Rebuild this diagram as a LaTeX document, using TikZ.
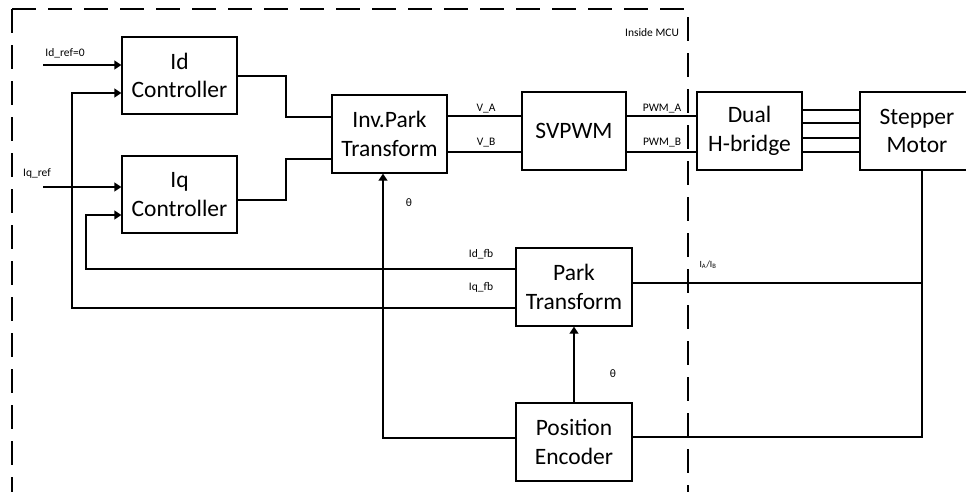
\documentclass[tikz,border=0pt]{standalone}
\usepackage{fontspec}
\setmainfont{Carlito}
\usetikzlibrary{arrows.meta}
\begin{document}
\begin{tikzpicture}[x=1pt,y=-1pt,
  blk/.style={draw,line width=1.3pt,align=center,font=\fontsize{23.5}{28.5}\selectfont,inner sep=0pt},
  wire/.style={line width=1.3pt},
  arr/.style={line width=1.3pt,-{Triangle[length=7pt,width=9pt]}},
  lbl/.style={font=\fontsize{11.5}{13}\selectfont,inner sep=0pt},
  mcu/.style={line width=2.8pt,dash pattern=on 24pt off 12pt}]
\useasboundingbox (0,0) rectangle (966,491);
% MCU boundary
\draw[mcu] (12,9) -- (12,500);
\draw[mcu] (12,9) -- (688,9) -- (688,500);
\node[lbl] (mculbl) at (652,33) {Inside MCU};
% blocks
\node[blk,minimum width=115pt,minimum height=77pt] (idc) at (179.5,75.5) {Id\\Controller};
\node[blk,minimum width=115pt,minimum height=77pt] (iqc) at (179.5,194.5) {Iq\\Controller};
\node[blk,minimum width=115pt,minimum height=78pt] (ipark) at (389.5,134) {Inv.Park\\Transform};
\node[blk,minimum width=104pt,minimum height=78pt] (svpwm) at (574,131) {SVPWM};
\node[blk,minimum width=105pt,minimum height=78pt] (hb) at (749.5,131) {Dual\\H-bridge};
\node[blk,minimum width=114pt,minimum height=78pt] (motor) at (917,131) {Stepper\\Motor};
\node[blk,minimum width=116pt,minimum height=78pt] (park) at (574,287) {Park\\Transform};
\node[blk,minimum width=116pt,minimum height=78pt] (enc) at (574,442) {Position\\Encoder};
% inputs
\coordinate (idref) at (43,65);
\coordinate (iqref) at (43,187);
\node[lbl] (idreflbl) at (65,53) {Id\_ref=0};
\node[lbl] (iqreflbl) at (37,173) {Iq\_ref};
\draw[arr] (idref) -- (idref -| idc.west);
\draw[arr] (iqref) -- (iqref -| iqc.west);
% feedback
\draw[arr] (park.west |- 0,308) -- (72,308) -- (72,93) -- (idc.west |- 0,93);
\draw[arr] (park.west |- 0,269) -- (86,269) -- (86,215) -- (iqc.west |- 0,215);
\node[lbl] (idfblbl) at (481,254) {Id\_fb};
\node[lbl] (iqfblbl) at (481,287) {Iq\_fb};
% controllers to inv park
\draw[wire] (idc.east |- 0,76) -- (286,76) -- (286,117) -- (ipark.west |- 0,117);
\draw[wire] (iqc.east |- 0,200) -- (286,200) -- (286,159) -- (ipark.west |- 0,159);
% inv park to svpwm
\draw[wire] (ipark.east |- 0,116) -- (svpwm.west |- 0,116);
\draw[wire] (ipark.east |- 0,152) -- (svpwm.west |- 0,152);
\node[lbl] (valbl) at (486,109) {V\_A};
\node[lbl] (vblbl) at (486,143) {V\_B};
% svpwm to h-bridge
\draw[wire] (svpwm.east |- 0,116) -- (hb.west |- 0,116);
\draw[wire] (svpwm.east |- 0,152) -- (hb.west |- 0,152);
\node[lbl] (pwmalbl) at (662,109) {PWM\_A};
\node[lbl] (pwmblbl) at (662,143) {PWM\_B};
% h-bridge to motor
\foreach \yy in {110,123,138,152} {\draw[wire] (hb.east |- 0,\yy) -- (motor.west |- 0,\yy);}
% motor feedback
\coordinate (mA) at (922,283);
\coordinate (mB) at (922,437);
\draw[wire] (motor.south -| mB) -- (mB) -- (enc.east |- mB);
\draw[wire] (park.east |- mA) -- (mA);
\node[lbl,font=\fontsize{9.5}{11}\selectfont] (iablbl) at (708,265) {I\textsubscript{A}/I\textsubscript{B}};
% encoder
\draw[arr] (enc.north) -- (park.south);
\node[lbl] (th2) at (613,374) {θ};
\draw[arr] (enc.west |- 0,438) -- (383,438) -- (383,0 |- ipark.south);
\node[lbl] (th1) at (409,203) {θ};
\end{tikzpicture}
\end{document}
